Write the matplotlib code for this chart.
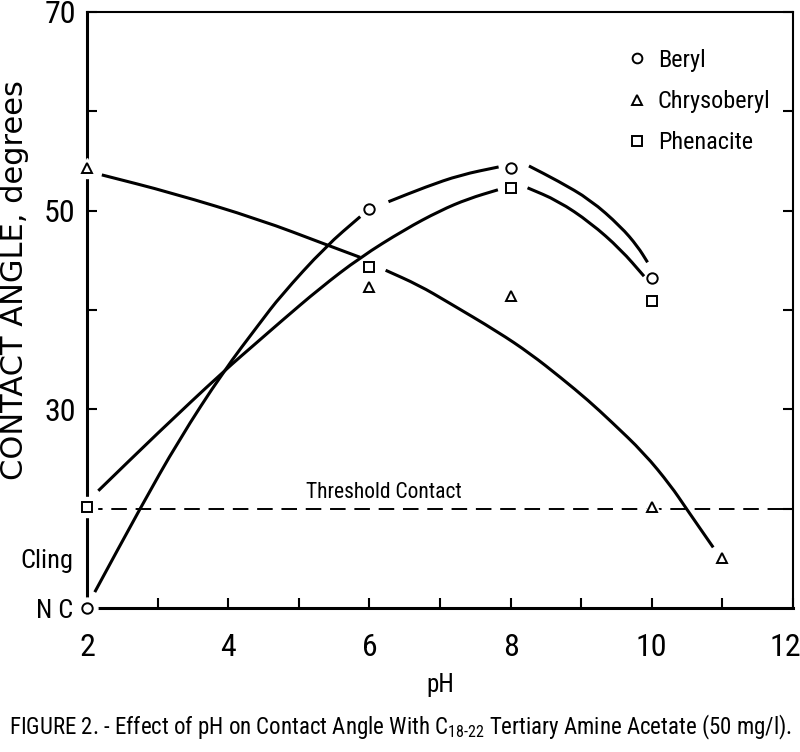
"""
Contact angle vs pH with C18-22 tertiary amine acetate (Figure 2 redraw).

Generates:
  - out.png
"""

import matplotlib
matplotlib.use("Agg")
import matplotlib.pyplot as plt
import matplotlib.transforms as mtransforms
import numpy as np
from matplotlib import font_manager
from matplotlib.lines import Line2D
from matplotlib.patches import PathPatch
from matplotlib.path import Path

# Narrow sans for the lettering; fall back to DejaVu if none is installed
_names = {f.name for f in font_manager.fontManager.ttflist}
NARROW = next((f for f in ("Roboto Condensed", "Liberation Sans Narrow",
                           "Open Sans Condensed", "Noto Sans Condensed") if f in _names), None)
if NARROW is None:
    NARROW = "DejaVu Sans"
    SCALE = 0.82
else:
    SCALE = 1.0
matplotlib.rcParams["font.family"] = [NARROW, "DejaVu Sans"]
matplotlib.rcParams["font.stretch"] = "condensed"
matplotlib.rcParams["mathtext.fontset"] = "custom"
matplotlib.rcParams["mathtext.rm"] = NARROW
matplotlib.rcParams["axes.unicode_minus"] = False

# ── Data ─────────────────────────────────────────────────────────────────────
NC, CLING, THRESHOLD = 10, 15, 20

ph_beryl = [2, 6, 8, 10]
angle_beryl = [10, 50.2, 54.3, 43.2]

ph_chryso = [2, 6, 8, 10, 11]
angle_chryso = [54.3, 42.3, 41.4, 20.2, 15.0]

ph_phen = [2, 6, 8, 10]
angle_phen = [20.2, 44.3, 52.3, 40.9]

# hand-drawn trend curves (nan = break at a symbol)
nan = np.nan
curve_beryl_x = [2.11, 2.75, 3.3, 3.93, 4.45, 4.74, 5.38, 5.87, nan,
                 6.27, 6.8, 7.29, 7.83, nan, 8.26, 8.67, 9.13, 9.56, 9.8, 9.94]
curve_beryl_y = [11.6, 20.0, 26.9, 33.8, 38.7, 41.4, 46.4, 49.4, nan,
                 50.9, 52.4, 53.6, 54.4, nan, 54.5, 53.0, 51.1, 48.4, 46.4, 44.8]

curve_phen_x = [2.16, 3.0, 3.93, 4.45, 4.74, 5.3, 5.87, 6.5, 7.0, 7.4, 7.82, nan,
                8.24, 8.67, 9.13, 9.56, 9.89]
curve_phen_y = [21.8, 27.6, 33.8, 37.0, 38.8, 42.2, 45.3, 48.1, 50.0, 51.2, 52.1, nan,
                52.3, 51.0, 48.8, 46.1, 43.4]

curve_chryso_x = [2.21, 3.2, 4.45, 5.38, 5.87, nan, 6.23, 6.7, 7.11, 7.82, 8.28,
                  8.71, 9.1, 9.42, 9.89, 10.27, 10.48, 10.87]
curve_chryso_y = [53.6, 51.8, 49.1, 46.6, 45.3, nan, 44.0, 42.5, 40.8, 37.8, 35.6,
                  33.2, 30.9, 28.8, 25.6, 22.3, 20.1, 16.1]

x_ticks = list(range(2, 13))
x_tick_labels = ["2", "", "4", "", "6", "", "8", "", "10", "", "12"]
y_ticks = [20, 30, 40, 50, 60, 70]
y_tick_labels = ["", "30", "", "50", "", "70"]


def smooth_path(xs, ys):
    """Quadratic-Bezier path through the traced points (like a French curve)."""
    pts = np.column_stack([xs, ys]).astype(float)
    verts, codes = [], []
    for seg in np.split(pts, np.where(np.isnan(pts[:, 0]))[0]):
        seg = seg[~np.isnan(seg[:, 0])]
        if len(seg) < 2:
            continue
        mids = (seg[:-1] + seg[1:]) / 2
        verts += [seg[0], mids[0]]
        codes += [Path.MOVETO, Path.LINETO]
        for i in range(1, len(seg) - 1):
            verts += [seg[i], mids[i]]
            codes += [Path.CURVE3, Path.CURVE3]
        verts.append(seg[-1])
        codes.append(Path.LINETO)
    return Path(verts, codes)


# ── Figure ───────────────────────────────────────────────────────────────────
fig = plt.figure(figsize=(8, 7.52), dpi=100)
ax = fig.add_axes([87 / 800, 1 - 608 / 752, 706 / 800, 596 / 752])
ax.set_xlim(2, 12)
ax.set_ylim(NC, 70)

ax.axhline(THRESHOLD, color="black", lw=1.4, ls=(0, (8, 4.5)), zorder=2)
ax.text(6.2, 21.6, "Threshold Contact", ha="center", va="center", fontsize=15.5 * SCALE)

for cx, cy in ((curve_beryl_x, curve_beryl_y), (curve_phen_x, curve_phen_y),
               (curve_chryso_x, curve_chryso_y)):
    ax.add_patch(PathPatch(smooth_path(cx, cy), fill=False, edgecolor="black", lw=2.2,
                           capstyle="butt", joinstyle="round", zorder=3.5))

series = [
    ("Beryl", ph_beryl, angle_beryl, "o"),
    ("Chrysoberyl", ph_chryso, angle_chryso, "^"),
    ("Phenacite", ph_phen, angle_phen, "s"),
]
handles = []
for name, xs, ys, mk in series:
    # white halo breaks the axes / dashed line around each symbol
    ax.plot(xs, ys, ls="none", marker=mk, ms=15, mfc="white", mec="white", zorder=3, clip_on=False)
    ax.plot(xs, ys, ls="none", marker=mk, ms=7.5, mfc="white", mec="black", mew=1.4,
            zorder=4, clip_on=False)
    handles.append(Line2D([], [], ls="none", marker=mk, ms=7, mfc="white", mec="black", mew=1.4))

ax.legend(handles, [s[0] for s in series], loc="upper left", bbox_to_anchor=(0.764, 0.938),
          frameon=False, fontsize=17.5 * SCALE, borderpad=0, borderaxespad=0,
          handlelength=0.9, handletextpad=0.4, labelspacing=0.75)

# ── Axes styling ─────────────────────────────────────────────────────────────
for side in ("left", "bottom"):
    ax.spines[side].set_linewidth(2.2)
for side in ("top", "right"):
    ax.spines[side].set_linewidth(1.5)

ax.set_xticks(x_ticks)
ax.set_xticklabels(x_tick_labels)
ax.set_yticks(y_ticks)
ax.set_yticklabels(y_tick_labels)
ax.set_yticks([NC, CLING], minor=True)
ax.set_yticklabels(["N C", "Cling"], minor=True)

ax.tick_params(axis="both", which="major", direction="in", length=7, width=1.5,
               labelsize=23 * SCALE)
ax.tick_params(axis="x", which="major", pad=18)
ax.tick_params(axis="y", which="major", right=True, pad=8)
ax.tick_params(axis="y", which="minor", length=0, pad=10, labelsize=19 * SCALE)
ax.xaxis.set_minor_locator(matplotlib.ticker.NullLocator())

# pull the last x label ("12") in from the figure edge
_last = ax.get_xticklabels()[-1]
_last.set_transform(_last.get_transform()
                    + mtransforms.ScaledTranslation(-8 / 100, 0, fig.dpi_scale_trans))

ax.set_xlabel("pH", fontsize=18 * SCALE, labelpad=8)
fig.text(15 / 800, 1 - 280 / 752, "CONTACT ANGLE, degrees", rotation=90, ha="center", va="center",
         fontsize=22, family="DejaVu Sans", stretch="normal")

fig.text(0.5, 1 - 727 / 752,
         r"FIGURE 2. - Effect of pH on Contact Angle With C$_{18\text{-}22}$ Tertiary Amine Acetate (50 mg/l).",
         ha="center", va="center", fontsize=16.5 * SCALE)

fig.savefig("out.png", dpi=100)
plt.close(fig)
